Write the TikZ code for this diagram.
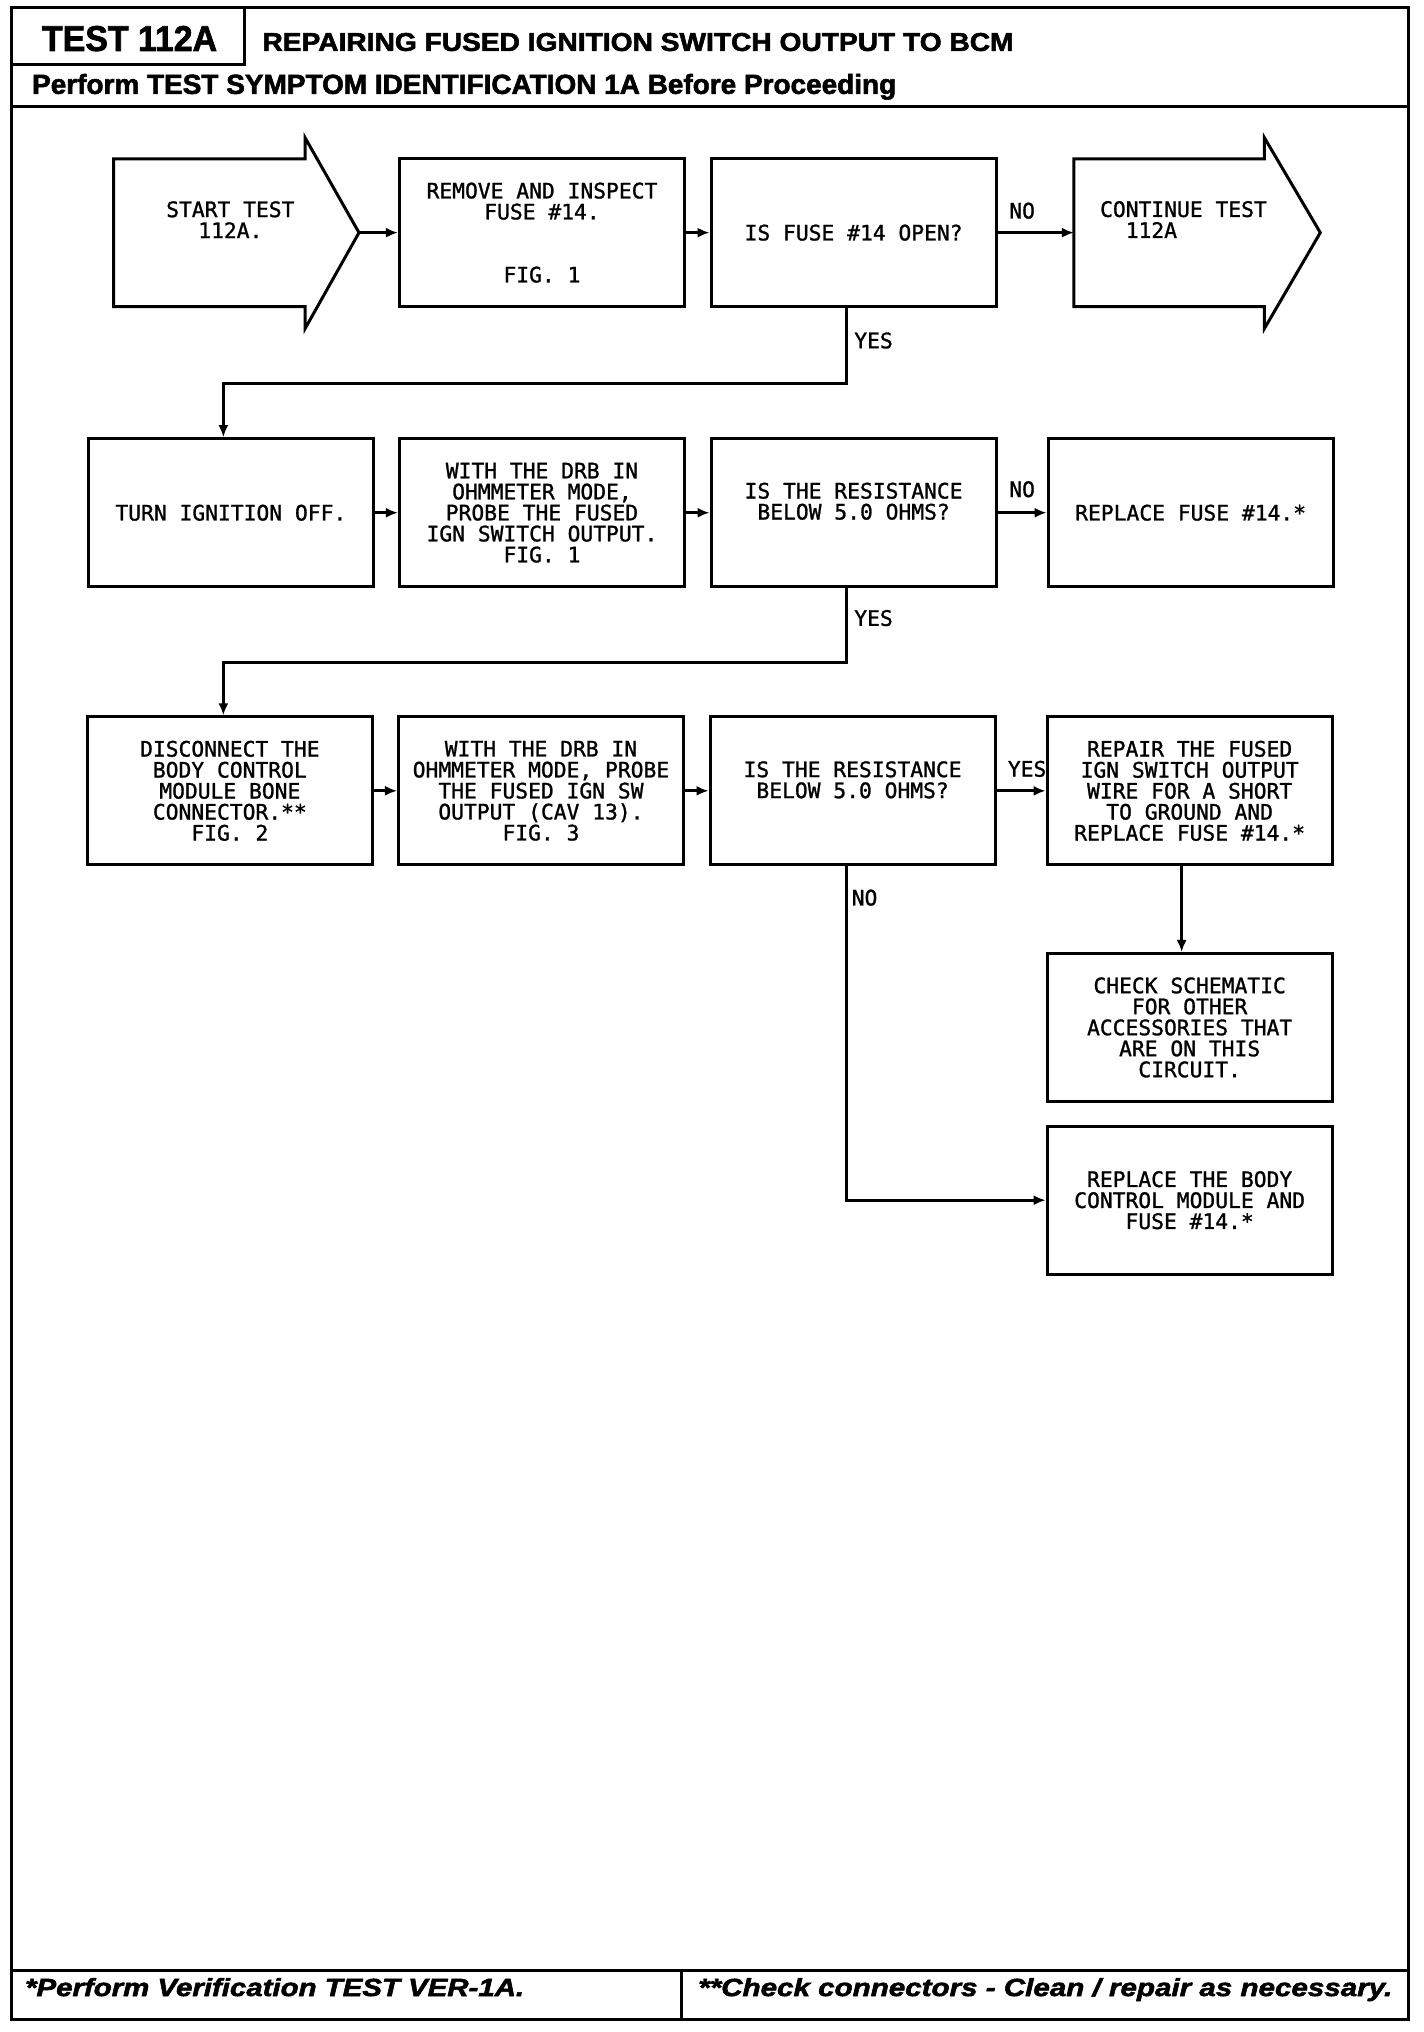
\documentclass[tikz,border=0pt]{standalone}
\usepackage{fontspec}
\setmainfont{Liberation Sans}
\newfontfamily\plotfont[FakeBold=1.2]{DejaVu Sans Mono}
\newfontfamily\heavyfont[FakeBold=2]{Liberation Sans}
\usetikzlibrary{arrows.meta}
\newcommand{\fitbox}[3]{\resizebox{#1pt}{#2pt}{#3}}
\tikzset{
  frame/.style={line width=3pt},
  stepbox/.style={draw, line width=3pt, minimum width=285pt, minimum height=148pt,
    inner sep=0pt, align=center, font=\plotfont\fontsize{21.3}{21}\selectfont},
  lbl/.style={inner sep=0pt, font=\plotfont\fontsize{21.3}{21}\selectfont},
  conn/.style={line width=3pt, -{Latex[length=12pt,width=10pt]}},
  plain/.style={line width=3pt, line join=miter},
  hdr/.style={inner sep=0pt, anchor=base west},
}
\begin{document}
\begin{tikzpicture}[x=1pt,y=-1pt]
\useasboundingbox (0,0) rectangle (1424,2032);
\begin{scope}[xscale=0.9972,yscale=0.9985]
% frame
\draw[frame] (12,8) rectangle (1412,2022);
\draw[frame] (12,8) rectangle (245,65);
\draw[frame] (12,107) -- (1412,107);
\draw[frame] (12,1973) -- (1412,1973);
\draw[frame] (683,1973) -- (683,2022);
% header and footer texts
\node[hdr] (t1) at (42,51) {\fitbox{175}{25}{\heavyfont\bfseries TEST 112A}};
\node[hdr] (t2) at (263,51) {\fitbox{751}{18}{\heavyfont\bfseries REPAIRING FUSED IGNITION SWITCH OUTPUT TO BCM}};
\node[hdr] (t3) at (32,94) {\fitbox{864}{20}{\heavyfont\bfseries Perform TEST SYMPTOM IDENTIFICATION 1A Before Proceeding}};
\node[hdr] (f1) at (25,1999) {\fitbox{499}{18}{\heavyfont\bfseries\itshape *Perform Verification TEST VER-1A.}};
\node[hdr] (f2) at (700,1999) {\fitbox{694}{18}{\heavyfont\bfseries\itshape **Check connectors - Clean / repair as necessary.}};
% start arrow
\draw[plain] (114,159) -- (306,159) -- (306,138) -- (360,233) -- (306,329) -- (306,307) -- (114,307) -- cycle;
\coordinate (starttip) at (360,233);
\node[lbl, align=center] (starttxt) at (231,220) {START TEST\\112A.};
% continue arrow
\draw[plain] (1077,159) -- (1268,159) -- (1268,138) -- (1324,233) -- (1268,329) -- (1268,307) -- (1077,307) -- cycle;
\coordinate (conttail) at (1077,233);
\node[lbl, align=left, anchor=west] (conttxt) at (1103,220) {CONTINUE TEST\\\phantom{CO}112A};
% row 1
\node[stepbox] (remove) at (543.5,233) {REMOVE AND INSPECT\\FUSE \#14.\\[42pt]FIG. 1};
\node[stepbox] (isfuse) at (856,233) {IS FUSE \#14 OPEN?};
% row 2
\node[stepbox] (turn) at (231.5,513.5) {TURN IGNITION OFF.};
\node[stepbox] (drbone) at (543.5,513.5) {WITH THE DRB IN\\OHMMETER MODE,\\PROBE THE FUSED\\IGN SWITCH OUTPUT.\\FIG. 1};
\node[stepbox] (isresone) at (856,513.5) {};
\node[lbl, align=center] (isresonetxt) at (856,502) {IS THE RESISTANCE\\BELOW 5.0 OHMS?};
\node[stepbox] (replfuse) at (1194,513.5) {REPLACE FUSE \#14.*};
% row 3
\node[stepbox] (disc) at (230.5,792) {DISCONNECT THE\\BODY CONTROL\\MODULE BONE\\CONNECTOR.**\\FIG. 2};
\node[stepbox] (drbtwo) at (542.5,792) {WITH THE DRB IN\\OHMMETER MODE, PROBE\\THE FUSED IGN SW\\OUTPUT (CAV 13).\\FIG. 3};
\node[stepbox] (isrestwo) at (855,792) {};
\node[lbl, align=center] (isrestwotxt) at (855,781) {IS THE RESISTANCE\\BELOW 5.0 OHMS?};
\node[stepbox] (repair) at (1193,792) {REPAIR THE FUSED\\IGN SWITCH OUTPUT\\WIRE FOR A SHORT\\TO GROUND AND\\REPLACE FUSE \#14.*};
\node[stepbox] (check) at (1193,1029) {CHECK SCHEMATIC\\FOR OTHER\\ACCESSORIES THAT\\ARE ON THIS\\CIRCUIT.};
\node[stepbox] (replbcm) at (1193,1202) {REPLACE THE BODY\\CONTROL MODULE AND\\FUSE \#14.*};
% connectors
\coordinate (jx) at (849,0);
\coordinate (lx) at (224,0);
\coordinate (rx) at (1185,0);
\coordinate (ya) at (0,384);
\coordinate (yb) at (0,663);
\draw[conn] (starttip) -- (remove.west);
\draw[conn] (remove.east) -- (isfuse.west);
\draw[conn] (isfuse.east) -- (conttail);
\draw[conn] (isfuse.south -| jx) -- (jx |- ya) -- (lx |- ya) -- (turn.north -| lx);
\draw[conn] (turn.east) -- (drbone.west);
\draw[conn] (drbone.east) -- (isresone.west);
\draw[conn] (isresone.east) -- (replfuse.west);
\draw[conn] (isresone.south -| jx) -- (jx |- yb) -- (lx |- yb) -- (disc.north -| lx);
\draw[conn] (disc.east) -- (drbtwo.west);
\draw[conn] (drbtwo.east) -- (isrestwo.west);
\draw[conn] (isrestwo.east) -- (repair.west);
\draw[conn] (repair.south -| rx) -- (check.north -| rx);
\draw[conn] (isrestwo.south -| jx) |- (replbcm.west);
% labels
\node[lbl] (noone) at (1025,211) {NO};
\node[lbl] (yesone) at (876,341) {YES};
\node[lbl] (notwo) at (1025,490) {NO};
\node[lbl] (yestwo) at (876,619) {YES};
\node[lbl] (yesthree) at (1030,770) {YES};
\node[lbl] (nothree) at (867,899) {NO};
\end{scope}
\end{tikzpicture}
\end{document}
